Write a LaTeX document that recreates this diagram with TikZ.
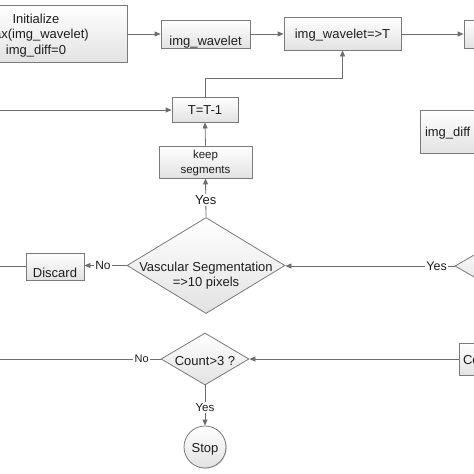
\documentclass[tikz,border=0pt]{standalone}
\usepackage{fontspec}
\setmainfont{Liberation Sans}
\usetikzlibrary{shapes.geometric,arrows.meta,shadows}
\definecolor{linec}{HTML}{6E6E6E}
\definecolor{boxline}{HTML}{7A7A7A}
\definecolor{boxbot}{HTML}{E2E2E2}
\definecolor{txtc}{HTML}{1E1E1E}
\newcommand\ztext[2]{\makebox[0pt]{\raisebox{#1}[0pt][0pt]{\begin{tabular}[b]{@{}c@{}}#2\end{tabular}}}}
\newcommand\ltext[3]{\makebox[0pt][l]{\hspace{#1}\raisebox{#2}[0pt][0pt]{#3}}}
\tikzset{
  flowbox/.style={rectangle, draw=boxline, line width=0.8pt, top color=white, bottom color=boxbot,
    inner sep=0pt, text=txtc, font=\fontsize{13}{15.5}\selectfont,
    drop shadow={shadow xshift=0.8pt, shadow yshift=-0.8pt, fill=black!35}},
  decbox/.style={diamond, draw=boxline, line width=0.8pt, top color=white, bottom color=boxbot,
    inner sep=0pt, text=txtc, font=\fontsize{13}{14.5}\selectfont},
  arrline/.style={draw=linec, line width=0.8pt, -{Triangle[length=6pt,width=5pt]}},
  plainline/.style={draw=linec, line width=0.8pt},
  edgelab/.style={fill=white, inner sep=1.5pt, text=txtc},
}
\begin{document}
\begin{tikzpicture}[x=1pt,y=-1pt]
\useasboundingbox (0,0) rectangle (474,474);
\clip (0,0) rectangle (474,474);
% top row
\node[flowbox, minimum width=190pt, minimum height=57pt] (init) at (32,33.5)
  {\hspace{8pt}\ztext{-20.5pt}{Initialize\\max(img\_wavelet)\\img\_diff=0}};
\node[flowbox, minimum width=89pt, minimum height=28pt] (wav) at (205.5,34)
  {\ztext{-11pt}{img\_wavelet}};
\node[flowbox, minimum width=117pt, minimum height=33pt] (thr) at (342.5,33.5)
  {\ztext{-4.8pt}{img\_wavelet=>T}};
\node[flowbox, minimum width=76pt, minimum height=28pt] (rbox) at (502,34) {};
% middle
\node[flowbox, minimum width=66pt, minimum height=25pt] (tbox) at (205,109.5)
  {\ztext{-4.5pt}{T=T-1}};
\node[flowbox, minimum width=110pt, minimum height=43pt] (diffb) at (475,131.5)
  {\ltext{-50pt}{-4.5pt}{img\_diff}};
\node[flowbox, minimum width=93pt, minimum height=32pt, font=\fontsize{11.5}{15}\selectfont] (keep) at (205.5,162)
  {\ztext{-11pt}{keep\\segments}};
\node[decbox, minimum width=158pt, minimum height=96pt] (vs) at (206,265.5)
  {\ztext{-20.5pt}{Vascular Segmentation\\=>10 pixels}};
\node[flowbox, minimum width=58pt, minimum height=27pt] (disc) at (55,266.5)
  {\ztext{-11.2pt}{Discard}};
\node[decbox, minimum width=110pt, minimum height=64pt] (rdec) at (510,266) {};
% bottom
\node[decbox, minimum width=88pt, minimum height=52pt] (cnt) at (205,359)
  {\ztext{-6pt}{Count>3 ?}};
\node[flowbox, minimum width=70pt, minimum height=32pt] (cobox) at (494,359)
  {\ltext{-31pt}{-5pt}{Co}};
\node[circle, draw=boxline, line width=0.8pt, top color=white, bottom color=boxbot, inner sep=0pt,
  minimum size=42pt, text=txtc, font=\fontsize{13}{15.5}\selectfont,
  drop shadow={shadow xshift=0.8pt, shadow yshift=-0.8pt, fill=black!35}] (stop) at (205,447)
  {\ztext{-5.7pt}{Stop}};
% helper coordinates
\coordinate (jt) at (342.5,78);
\coordinate (inT) at (-5,110);
\coordinate (outD) at (-5,266);
\coordinate (outC) at (-5,359);
% connectors
\draw[arrline] (init.east |- wav.west) -- (wav.west);
\draw[arrline] (wav.east) -- (wav.east -| thr.west);
\draw[arrline] (thr.east |- rbox.west) -- (rbox.west);
\draw[arrline] (tbox.north) |- (jt) -- (thr.south);
\draw[arrline] (inT) -- (inT -| tbox.west);
\draw[arrline] (keep.north) -- (tbox.south);
\draw[arrline] (vs.north) -- node[edgelab, pos=0.45, font=\fontsize{13}{15}\selectfont] (ly1) {Yes} (keep.south);
\draw[arrline] (vs.west) -- node[edgelab, pos=0.56, font=\fontsize{12}{14}\selectfont] (ln1) {No} (vs.west -| disc.east);
\draw[plainline] (disc.west |- outD) -- (outD);
\draw[arrline] (rdec.west) -- node[edgelab, pos=0.106, font=\fontsize{12.5}{14}\selectfont] (ly2) {Yes} (rdec.west -| vs.east);
\draw[plainline] (cnt.west) -- node[edgelab, pos=0.114, font=\fontsize{11}{13}\selectfont] (ln2) {No} (outC);
\draw[arrline] (cobox.west) -- (cnt.east);
\draw[arrline] (cnt.south) -- node[edgelab, pos=0.54, font=\fontsize{11.5}{13}\selectfont] (ly3) {Yes} (stop.north);
\end{tikzpicture}
\end{document}
